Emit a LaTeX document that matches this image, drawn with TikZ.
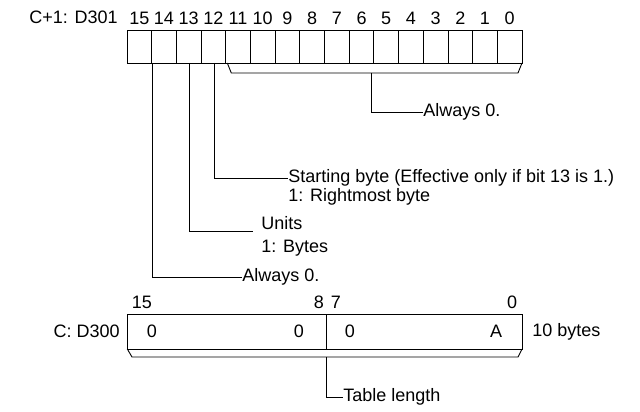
\documentclass[tikz,border=0pt]{standalone}
\usepackage{fontspec}
\setmainfont{Liberation Sans}
\begin{document}
\begin{tikzpicture}[x=1pt,y=-1pt,line width=0.9pt,
  lbl/.style={inner sep=0pt,font=\fontsize{18}{20}\selectfont},
  num/.style={inner sep=0pt,font=\fontsize{18}{20}\selectfont}]
\useasboundingbox (0,0) rectangle (640,412);
% top register
\foreach \i in {0,...,15}{
  \pgfmathsetmacro\xl{127+24.69*\i}
  \draw (\xl,30) rectangle ++(24.69,33);
  \pgfmathtruncatemacro\b{15-\i}
  \node[num] at (\xl+12.3,18) {\b};
}
\node[lbl,anchor=east] (c1) at (118,17) {C+1: D301};
\draw (227.3,63) -- (231.3,73) -- (518,73) -- (522,63);
% bit 0-11 label
\coordinate (a0) at (371,73);
\node[lbl,anchor=west] (al0) at (423,112) {Always 0.};
\draw (a0) |- (al0.west);
% bit 12
\coordinate (b12) at (214,63);
\node[lbl,anchor=west] (sb) at (288,178) {Starting byte (Effective only if bit 13 is 1.)};
\node[lbl,anchor=west] at (288,197) {1: Rightmost byte};
\draw (b12) |- (sb.west);
% bit 13
\coordinate (b13) at (189,63);
\node[lbl,anchor=west] (un) at (261,223) {Units};
\node[lbl,anchor=west] at (261,248) {1: Bytes};
\draw (b13) |- (253,231);
% bit 15
\coordinate (b15) at (152.7,63);
\node[lbl,anchor=west] (al15) at (242,277) {Always 0.};
\draw (b15) |- (al15.west);
% bottom register
\draw (127.3,314) rectangle (522,349);
\draw (326,314) -- (326,349);
\draw (127.3,349) -- (132,357) -- (518,357) -- (522,349);
\node[lbl,anchor=east] (c0) at (120,331) {C: D300};
\node[num] at (142,302) {15};
\node[num] at (319,302) {8};
\node[num] at (336,302) {7};
\node[num] at (512,302) {0};
\node[lbl] at (152,331) {0};
\node[lbl] at (299,331) {0};
\node[lbl] at (350,331) {0};
\node[lbl] at (496,331) {A};
\node[lbl,anchor=west] at (532,332) {10 bytes};
\coordinate (tl) at (326,357);
\node[lbl,anchor=west] (tlen) at (343,397) {Table length};
\draw (tl) |- (tlen.west);
\end{tikzpicture}
\end{document}
